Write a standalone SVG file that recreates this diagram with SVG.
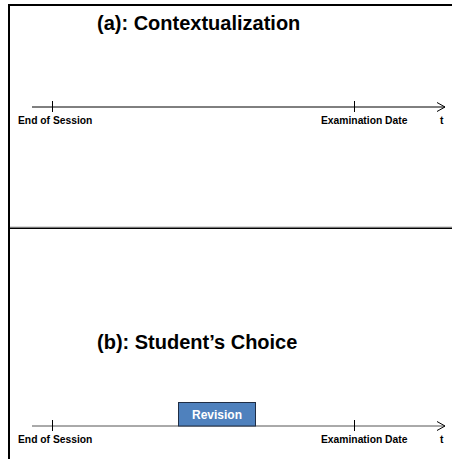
<svg xmlns="http://www.w3.org/2000/svg" width="452" height="459" viewBox="0 0 452 459">
<style>
.title{font-family:"Liberation Sans",Arial,sans-serif;font-weight:bold;font-size:20px;fill:#000}
.lbl{font-family:"Liberation Sans",Arial,sans-serif;font-weight:bold;font-size:10.3px;fill:#000}
.rev{font-family:"Liberation Sans",Arial,sans-serif;font-weight:bold;font-size:12px;fill:#fff}
.axis{stroke:#000;stroke-width:1;fill:none}
.axisb{stroke:#555;stroke-width:1;fill:none}
.tick{stroke:#000;stroke-width:1}
</style>
<defs>
<marker id="arr" markerWidth="10" markerHeight="10" refX="9" refY="5" orient="auto" markerUnits="userSpaceOnUse">
<path d="M1,0.5 L9,5 L1,9.5" fill="none" stroke="#000" stroke-width="1"/>
</marker>
</defs>
<rect width="452" height="459" fill="#fff"/>
<g id="frame">
<line x1="9" y1="5" x2="452" y2="5" stroke="#000" stroke-width="2"/>
<line x1="9" y1="4" x2="9" y2="459" stroke="#000" stroke-width="2"/>
<line x1="10" y1="226.8" x2="452" y2="226.8" stroke="#ccc" stroke-width="1"/>
<line x1="10" y1="228.2" x2="452" y2="228.2" stroke="#000" stroke-width="1.4"/>
</g>
<g id="panel-a">
<text class="title" x="97" y="30">(a): Contextualization</text>
</g>
<g id="connectors">
<line class="axis" x1="32" y1="107" x2="445" y2="107" marker-end="url(#arr)"/>
<line class="axisb" x1="32" y1="426" x2="445" y2="426" marker-end="url(#arr)"/>
</g>
<g id="timeline-a">
<line class="tick" x1="52.5" y1="101" x2="52.5" y2="112"/>
<line class="tick" x1="354.5" y1="101" x2="354.5" y2="112"/>
<text class="lbl" x="18" y="123.5">End of Session</text>
<text class="lbl" x="321" y="123.5">Examination Date</text>
<text class="lbl" x="440" y="123.5">t</text>
</g>
<g id="panel-b">
<text class="title" x="97" y="349">(b): Student’s Choice</text>
</g>
<g id="timeline-b">
<line class="tick" x1="52.5" y1="420" x2="52.5" y2="431"/>
<line class="tick" x1="354.5" y1="420" x2="354.5" y2="431"/>
<text class="lbl" x="18" y="442.5">End of Session</text>
<text class="lbl" x="321" y="442.5">Examination Date</text>
<text class="lbl" x="440" y="442.5">t</text>
</g>
<g id="revision">
<rect x="178.5" y="402.5" width="77" height="23.5" fill="#4f81bd" stroke="#1f2d44" stroke-width="1"/>
<text class="rev" x="217" y="418.5" text-anchor="middle">Revision</text>
</g>
</svg>
